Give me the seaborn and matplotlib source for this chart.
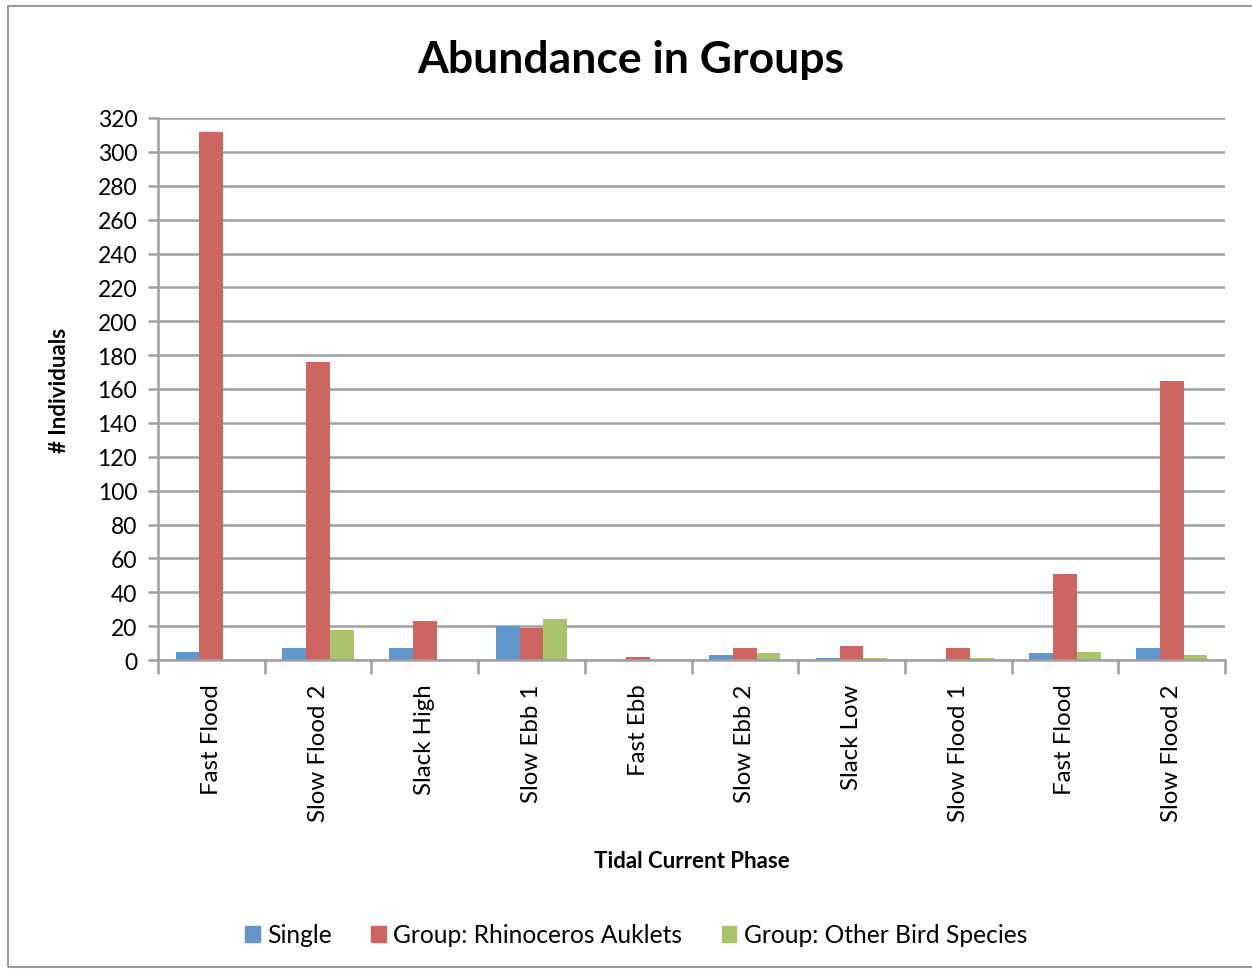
import numpy as np
import pandas as pd
import matplotlib
matplotlib.use("Agg")
import matplotlib.pyplot as plt
import seaborn as sns
from matplotlib.patches import Rectangle
from matplotlib.ticker import FixedLocator, NullFormatter

categories = ["Fast Flood", "Slow Flood 2", "Slack High", "Slow Ebb 1", "Fast Ebb",
              "Slow Ebb 2", "Slack Low", "Slow Flood 1", "Fast Flood", "Slow Flood 2"]
series_names = ["Single", "Group: Rhinoceros Auklets", "Group: Other Bird Species"]
single = [5, 7, 7, 20, 0, 3, 1, 0, 4, 7]
rhino = [312, 176, 23, 19, 2, 7, 8, 7, 51, 165]
other = [0, 18, 0, 24, 0, 4, 1, 1, 5, 3]
colors = ["#6197CC", "#CD6660", "#AAC46C"]

sns.set_theme(style="white")
plt.rcParams['font.family'] = ['Lato', 'DejaVu Sans']
plt.rcParams['text.color'] = 'black'
plt.rcParams['axes.labelcolor'] = 'black'
plt.rcParams['xtick.color'] = 'black'
plt.rcParams['ytick.color'] = 'black'

rows = []
for i in range(len(categories)):
    for name, vals in zip(series_names, [single, rhino, other]):
        rows.append({"pos": str(i), "series": name, "value": vals[i]})
df = pd.DataFrame(rows)

fig = plt.figure(figsize=(12.52, 9.70), dpi=100)
ax = fig.add_axes([158/1252, 1-661/970, (1225-158)/1252, (661-119)/970])

sns.barplot(data=df, x="pos", y="value", hue="series", palette=colors,
            order=[str(i) for i in range(len(categories))], hue_order=series_names,
            width=0.667, ax=ax, edgecolor="none", linewidth=0, saturation=1)

ax.set_ylim(0, 320)
ax.set_xlim(-0.5, len(categories) - 0.5)
ax.set_yticks(np.arange(0, 321, 20))
ax.yaxis.grid(True, color="#A0A0A0", linewidth=1.8)
ax.set_axisbelow(True)
for s in ["top", "right"]:
    ax.spines[s].set_visible(False)
ax.spines["left"].set_color("#A0A0A0")
ax.spines["left"].set_linewidth(1.8)
ax.spines["bottom"].set_color("#A0A0A0")
ax.spines["bottom"].set_linewidth(1.8)

# category ticks: marks at boundaries, labels at centers
ax.xaxis.set_major_locator(FixedLocator(np.arange(-0.5, len(categories), 1.0)))
ax.xaxis.set_major_formatter(NullFormatter())
ax.xaxis.set_minor_locator(FixedLocator(np.arange(len(categories))))
ax.set_xticklabels(categories, minor=True, rotation=90, fontsize=17.3)
ax.tick_params(axis="x", which="major", length=10, width=1.8, color="#A0A0A0", direction="out", bottom=True)
ax.tick_params(axis="x", which="minor", length=0, pad=17, bottom=True, labelcolor="black")
ax.tick_params(axis="y", length=7, width=1.8, color="#A0A0A0", direction="out", left=True,
               labelsize=16.5, pad=8, labelcolor="black")

ax.set_xlabel("Tidal Current Phase", fontsize=16, fontweight="bold", labelpad=21, color="black")
ax.set_ylabel("# Individuals", fontsize=16, fontweight="bold", labelpad=20, color="black")

fig.suptitle("Abundance in Groups", fontsize=32, fontweight="bold", x=631/1252, y=1-60/970,
             va="center", color="black")

ax.legend_.remove()
handles = [Rectangle((0, 0), 1, 1, color=c) for c in colors]
leg = fig.legend(handles, series_names, loc="center", bbox_to_anchor=(636/1252, 1-936/970), ncol=3,
                 frameon=False, fontsize=17.7, handlelength=0.6, handleheight=0.6,
                 handletextpad=0.3, columnspacing=1.6)
for t in leg.get_texts():
    t.set_color("black")

fig.patches.append(Rectangle((8/1252, 1-968/970), 1.0, (968-7)/970, transform=fig.transFigure,
                             fill=False, edgecolor="#9A9A9A", linewidth=1.5))

fig.savefig("out.png", dpi=100)
